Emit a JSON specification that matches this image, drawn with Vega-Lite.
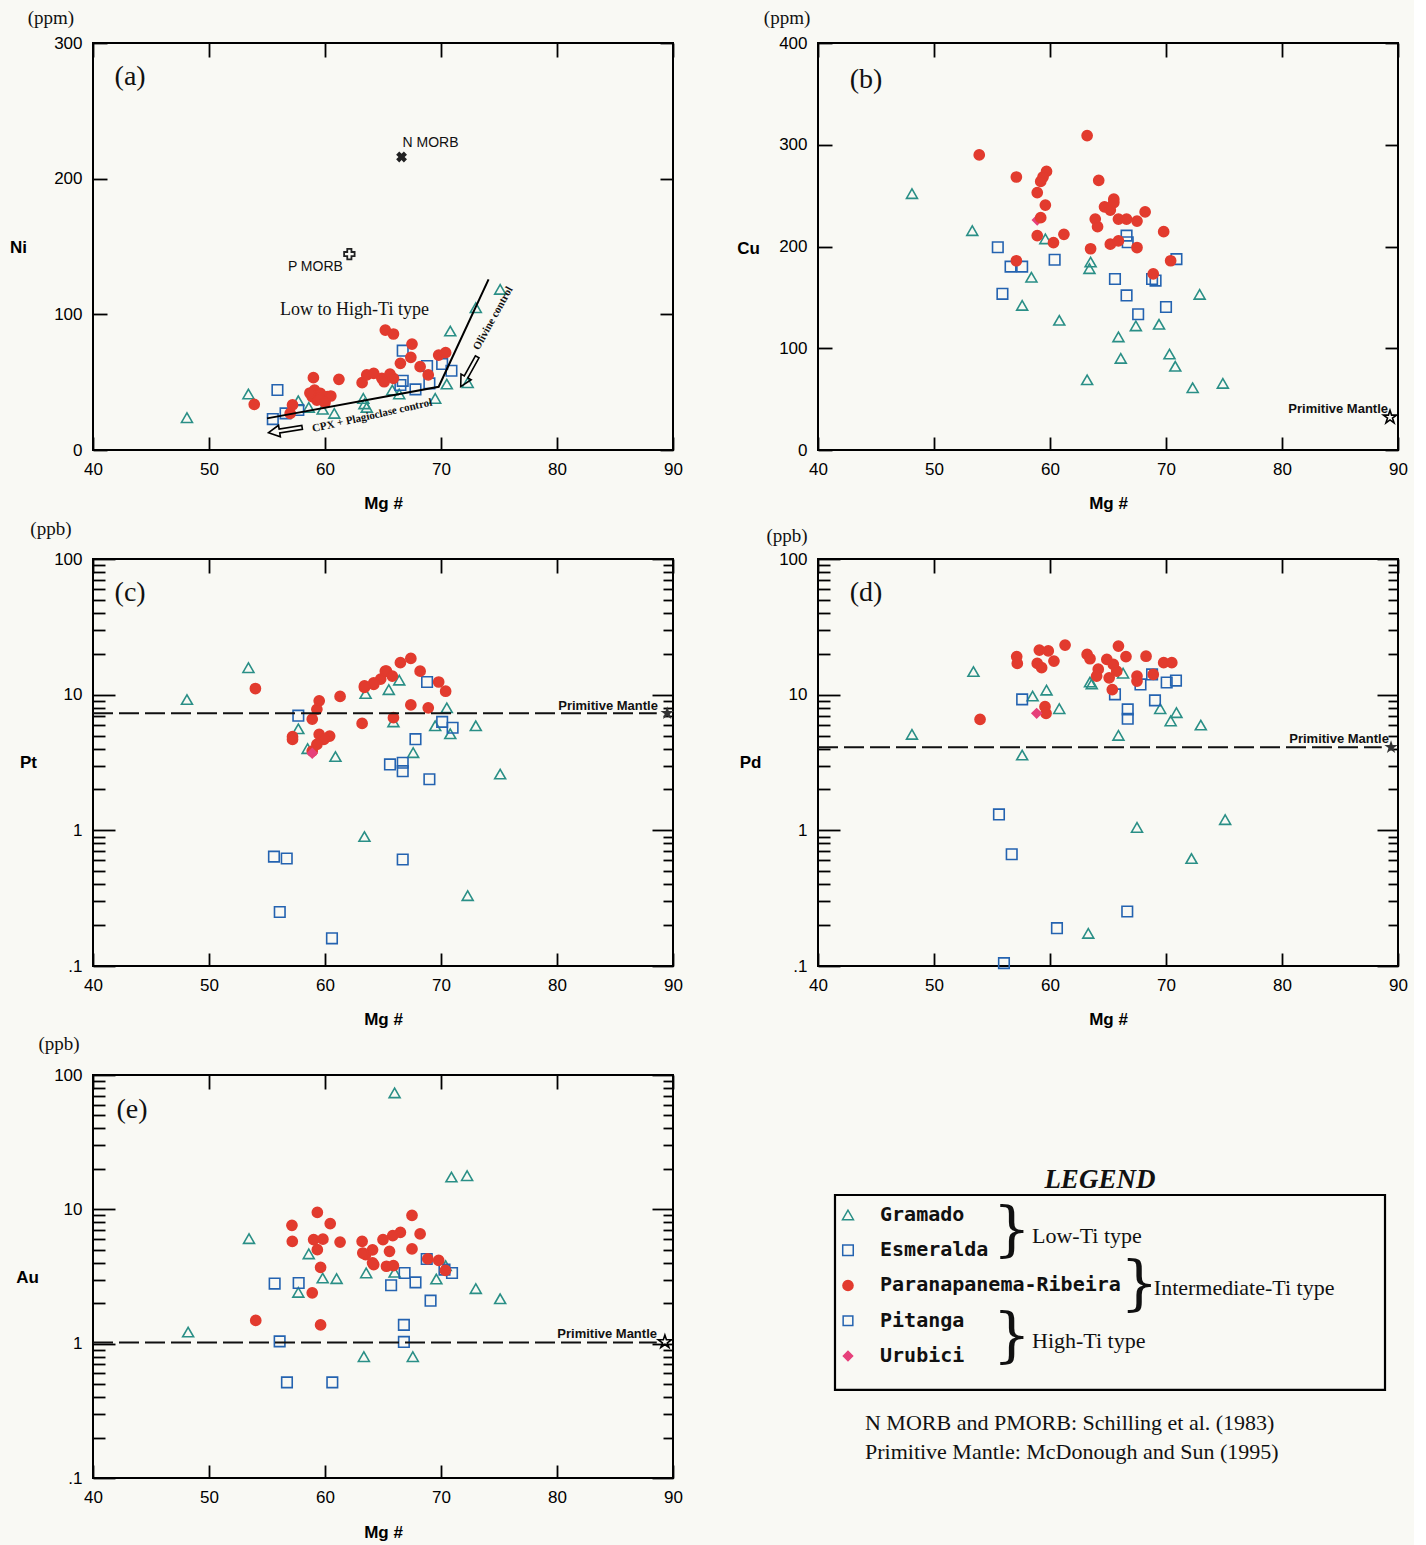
{
"$schema":"https://vega.github.io/schema/vega-lite/v6.json",
"background":"#f9f9f4",
"padding":{"left":8,"top":8,"right":5,"bottom":5},
"datasets":{
"pa":[
{"g":"G","mg":48.1,"v":23.8},{"g":"G","mg":53.4,"v":41.3},{"g":"G","mg":57.7,"v":36.3},{"g":"G","mg":58.6,"v":31.4},{"g":"G","mg":59.8,"v":30},{"g":"G","mg":60.8,"v":27},{"g":"G","mg":63.3,"v":38},{"g":"G","mg":63.4,"v":34},{"g":"G","mg":63.6,"v":31.4},{"g":"G","mg":65.8,"v":44.2},{"g":"G","mg":66.4,"v":41.3},{"g":"G","mg":69.5,"v":38},{"g":"G","mg":70.5,"v":48.6},{"g":"G","mg":70.8,"v":87.7},{"g":"G","mg":72.3,"v":49.6},{"g":"G","mg":73.0,"v":104.9},{"g":"G","mg":75.1,"v":118.4},
{"g":"E","mg":55.9,"v":44.2},{"g":"E","mg":55.5,"v":22.8},{"g":"E","mg":56.6,"v":27},{"g":"E","mg":57.7,"v":29.5},{"g":"E","mg":66.7,"v":73.2},{"g":"E","mg":66.7,"v":51},{"g":"E","mg":66.5,"v":47.9},{"g":"E","mg":67.8,"v":44.7},{"g":"E","mg":68.8,"v":61.9},{"g":"E","mg":69.0,"v":49.1},{"g":"E","mg":70.1,"v":63.4},{"g":"E","mg":70.9,"v":58.4},
{"g":"R","mg":53.9,"v":33.7},{"g":"R","mg":57.2,"v":33.2},{"g":"R","mg":57.0,"v":27},{"g":"R","mg":59.0,"v":53.3},{"g":"R","mg":59.1,"v":44.2},{"g":"R","mg":58.9,"v":39.3},{"g":"R","mg":59.6,"v":41.8},{"g":"R","mg":60.2,"v":39.3},{"g":"R","mg":59.3,"v":36.8},{"g":"R","mg":60.5,"v":39.8},{"g":"R","mg":59.5,"v":38},{"g":"R","mg":60.0,"v":35},{"g":"R","mg":58.7,"v":42},{"g":"R","mg":61.2,"v":52.1},{"g":"R","mg":63.2,"v":49.6},{"g":"R","mg":63.6,"v":55.3},{"g":"R","mg":64.2,"v":56.5},{"g":"R","mg":64.9,"v":52.8},{"g":"R","mg":65.1,"v":50.3},{"g":"R","mg":65.6,"v":56},{"g":"R","mg":65.9,"v":52.8},{"g":"R","mg":65.2,"v":88.4},{"g":"R","mg":65.9,"v":85.5},{"g":"R","mg":67.5,"v":78.1},{"g":"R","mg":67.4,"v":68.3},{"g":"R","mg":66.5,"v":63.9},{"g":"R","mg":68.2,"v":61.4},{"g":"R","mg":68.9,"v":55.3},{"g":"R","mg":69.8,"v":70},{"g":"R","mg":70.4,"v":71.7}
],
"la":[{"o":1,"mg":55.0,"v":23.3},{"o":2,"mg":69.8,"v":46.6},{"o":3,"mg":74.1,"v":125.8}],
"pb":[
{"g":"G","mg":48.1,"v":252},{"g":"G","mg":53.3,"v":215.6},{"g":"G","mg":59.6,"v":207.5},{"g":"G","mg":58.4,"v":169.8},{"g":"G","mg":57.6,"v":142.1},{"g":"G","mg":60.8,"v":127.5},{"g":"G","mg":63.5,"v":184.7},{"g":"G","mg":63.4,"v":178.2},{"g":"G","mg":63.2,"v":69},{"g":"G","mg":65.9,"v":111.2},{"g":"G","mg":66.1,"v":90},{"g":"G","mg":67.4,"v":122},{"g":"G","mg":69.4,"v":123.6},{"g":"G","mg":72.9,"v":152.9},{"g":"G","mg":70.3,"v":94.3},{"g":"G","mg":70.8,"v":82.3},{"g":"G","mg":72.3,"v":61.2},{"g":"G","mg":74.9,"v":65.5},
{"g":"E","mg":55.5,"v":199.3},{"g":"E","mg":56.6,"v":180.2},{"g":"E","mg":57.6,"v":180.2},{"g":"E","mg":55.9,"v":153.5},{"g":"E","mg":60.4,"v":187},{"g":"E","mg":65.6,"v":168.1},{"g":"E","mg":66.6,"v":210.7},{"g":"E","mg":66.7,"v":204.2},{"g":"E","mg":66.6,"v":151.9},{"g":"E","mg":67.6,"v":133.4},{"g":"E","mg":68.8,"v":168.1},{"g":"E","mg":69.1,"v":166.5},{"g":"E","mg":70.0,"v":140.5},{"g":"E","mg":70.9,"v":187.6},
{"g":"U","mg":58.9,"v":226},
{"g":"R","mg":53.9,"v":290},{"g":"R","mg":63.2,"v":309},{"g":"R","mg":57.1,"v":268.3},{"g":"R","mg":59.7,"v":273.9},{"g":"R","mg":59.4,"v":268.3},{"g":"R","mg":59.2,"v":264},{"g":"R","mg":58.9,"v":253},{"g":"R","mg":59.6,"v":240.7},{"g":"R","mg":59.2,"v":228.3},{"g":"R","mg":58.9,"v":210.7},{"g":"R","mg":60.3,"v":203.9},{"g":"R","mg":61.2,"v":212},{"g":"R","mg":57.1,"v":186},{"g":"R","mg":64.2,"v":265},{"g":"R","mg":63.9,"v":227},{"g":"R","mg":64.1,"v":219.5},{"g":"R","mg":63.5,"v":197.8},{"g":"R","mg":64.7,"v":239},{"g":"R","mg":65.5,"v":246.5},{"g":"R","mg":65.2,"v":235.8},{"g":"R","mg":65.9,"v":227},{"g":"R","mg":66.6,"v":227},{"g":"R","mg":67.5,"v":225},{"g":"R","mg":68.2,"v":234},{"g":"R","mg":65.2,"v":202.3},{"g":"R","mg":65.9,"v":205.5},{"g":"R","mg":67.5,"v":199},{"g":"R","mg":69.8,"v":214.6},{"g":"R","mg":70.4,"v":186},{"g":"R","mg":68.9,"v":173},{"g":"R","mg":65.5,"v":243.2}
],
"pc":[
{"g":"G","mg":53.4,"v":15.8},{"g":"G","mg":48.1,"v":9.2},{"g":"G","mg":57.7,"v":5.6},{"g":"G","mg":58.5,"v":4.0},{"g":"G","mg":60.9,"v":3.5},{"g":"G","mg":63.4,"v":0.9},{"g":"G","mg":63.5,"v":10.2},{"g":"G","mg":70.5,"v":8.0},{"g":"G","mg":66.4,"v":12.8},{"g":"G","mg":65.5,"v":10.9},{"g":"G","mg":65.9,"v":6.3},{"g":"G","mg":69.5,"v":5.9},{"g":"G","mg":70.8,"v":5.15},{"g":"G","mg":73.0,"v":5.9},{"g":"G","mg":67.6,"v":3.74},{"g":"G","mg":75.1,"v":2.6},{"g":"G","mg":72.3,"v":0.33},
{"g":"E","mg":57.7,"v":7.0},{"g":"E","mg":55.6,"v":0.64},{"g":"E","mg":56.7,"v":0.62},{"g":"E","mg":56.1,"v":0.25},{"g":"E","mg":60.6,"v":0.16},{"g":"E","mg":65.6,"v":3.06},{"g":"E","mg":68.8,"v":12.4},{"g":"E","mg":70.1,"v":6.3},{"g":"E","mg":71.0,"v":5.7},{"g":"E","mg":67.8,"v":4.7},{"g":"E","mg":66.7,"v":3.15},{"g":"E","mg":66.7,"v":2.73},{"g":"E","mg":69.0,"v":2.38},{"g":"E","mg":66.7,"v":0.61},
{"g":"R","mg":54.0,"v":11.1},{"g":"R","mg":59.5,"v":9.0},{"g":"R","mg":59.3,"v":7.8},{"g":"R","mg":58.9,"v":6.6},{"g":"R","mg":61.3,"v":9.7},{"g":"R","mg":57.2,"v":4.9},{"g":"R","mg":57.2,"v":4.68},{"g":"R","mg":59.5,"v":5.1},{"g":"R","mg":60.4,"v":4.95},{"g":"R","mg":59.9,"v":4.68},{"g":"R","mg":59.3,"v":4.3},{"g":"R","mg":58.9,"v":3.84},{"g":"R","mg":63.2,"v":6.14},{"g":"R","mg":63.4,"v":11.3},{"g":"R","mg":64.2,"v":11.9},{"g":"R","mg":65.2,"v":14.9},{"g":"R","mg":64.8,"v":13.0},{"g":"R","mg":66.5,"v":17.2},{"g":"R","mg":67.4,"v":18.5},{"g":"R","mg":68.2,"v":14.9},{"g":"R","mg":69.8,"v":12.4},{"g":"R","mg":70.4,"v":10.6},{"g":"R","mg":65.3,"v":14.9},{"g":"R","mg":65.8,"v":13.7},{"g":"R","mg":64.2,"v":12.2},{"g":"R","mg":63.4,"v":11.6},{"g":"R","mg":67.4,"v":8.4},{"g":"R","mg":68.9,"v":8.0},{"g":"R","mg":65.9,"v":6.77},
{"g":"U","mg":58.9,"v":3.7}
],
"pd":[
{"g":"G","mg":48.1,"v":5.1},{"g":"G","mg":53.4,"v":14.8},{"g":"G","mg":57.6,"v":3.59},{"g":"G","mg":58.5,"v":9.77},{"g":"G","mg":59.7,"v":10.8},{"g":"G","mg":60.8,"v":7.88},{"g":"G","mg":63.45,"v":12.4},{"g":"G","mg":63.6,"v":12.0},{"g":"G","mg":65.9,"v":5.01},{"g":"G","mg":66.3,"v":14.4},{"g":"G","mg":69.5,"v":7.88},{"g":"G","mg":70.9,"v":7.37},{"g":"G","mg":70.4,"v":6.4},{"g":"G","mg":73.0,"v":5.97},{"g":"G","mg":67.5,"v":1.05},{"g":"G","mg":75.1,"v":1.2},{"g":"G","mg":72.2,"v":0.62},{"g":"G","mg":63.3,"v":0.174},
{"g":"E","mg":57.6,"v":9.23},{"g":"E","mg":65.6,"v":10.05},{"g":"E","mg":66.7,"v":7.79},{"g":"E","mg":66.7,"v":6.65},{"g":"E","mg":67.8,"v":11.9},{"g":"E","mg":68.8,"v":14.1},{"g":"E","mg":69.05,"v":9.08},{"g":"E","mg":70.06,"v":12.3},{"g":"E","mg":70.86,"v":12.7},{"g":"E","mg":55.6,"v":1.31},{"g":"E","mg":56.7,"v":0.666},{"g":"E","mg":66.66,"v":0.252},{"g":"E","mg":60.6,"v":0.19},{"g":"E","mg":56.03,"v":0.105},
{"g":"R","mg":53.97,"v":6.58},{"g":"R","mg":57.13,"v":19.1},{"g":"R","mg":57.18,"v":17.0},{"g":"R","mg":59.08,"v":21.3},{"g":"R","mg":59.85,"v":21.0},{"g":"R","mg":58.9,"v":17.0},{"g":"R","mg":59.28,"v":15.8},{"g":"R","mg":60.34,"v":17.7},{"g":"R","mg":61.3,"v":23.2},{"g":"R","mg":59.57,"v":8.16},{"g":"R","mg":59.66,"v":7.28},{"g":"R","mg":63.2,"v":19.8},{"g":"R","mg":63.45,"v":18.4},{"g":"R","mg":64.16,"v":15.4},{"g":"R","mg":64.02,"v":13.7},{"g":"R","mg":64.9,"v":18.2},{"g":"R","mg":65.46,"v":16.7},{"g":"R","mg":65.9,"v":22.8},{"g":"R","mg":66.55,"v":19.1},{"g":"R","mg":65.1,"v":13.3},{"g":"R","mg":65.75,"v":14.9},{"g":"R","mg":65.37,"v":10.9},{"g":"R","mg":67.5,"v":13.7},{"g":"R","mg":67.5,"v":12.6},{"g":"R","mg":68.28,"v":19.2},{"g":"R","mg":68.9,"v":14.1},{"g":"R","mg":69.8,"v":17.2},{"g":"R","mg":70.5,"v":17.2},
{"g":"U","mg":58.85,"v":7.28}
],
"pe":[
{"g":"G","mg":48.2,"v":1.22},{"g":"G","mg":53.45,"v":6.05},{"g":"G","mg":58.6,"v":4.66},{"g":"G","mg":57.7,"v":2.41},{"g":"G","mg":59.8,"v":3.08},{"g":"G","mg":61.0,"v":3.05},{"g":"G","mg":63.55,"v":3.36},{"g":"G","mg":63.35,"v":0.8},{"g":"G","mg":66.0,"v":73.6},{"g":"G","mg":70.9,"v":17.4},{"g":"G","mg":72.25,"v":17.8},{"g":"G","mg":69.6,"v":3.03},{"g":"G","mg":73.0,"v":2.57},{"g":"G","mg":75.1,"v":2.16},{"g":"G","mg":70.4,"v":3.81},{"g":"G","mg":67.57,"v":0.8},{"g":"G","mg":66.0,"v":3.4},
{"g":"E","mg":55.66,"v":2.8},{"g":"E","mg":57.73,"v":2.83},{"g":"E","mg":56.09,"v":1.04},{"g":"E","mg":56.72,"v":0.515},{"g":"E","mg":60.63,"v":0.515},{"g":"E","mg":66.86,"v":3.36},{"g":"E","mg":65.7,"v":2.72},{"g":"E","mg":67.8,"v":2.86},{"g":"E","mg":69.1,"v":2.09},{"g":"E","mg":66.8,"v":1.38},{"g":"E","mg":66.8,"v":1.03},{"g":"E","mg":70.95,"v":3.36},{"g":"E","mg":70.3,"v":3.56},{"g":"E","mg":68.77,"v":4.27},
{"g":"R","mg":59.34,"v":9.5},{"g":"R","mg":57.15,"v":7.6},{"g":"R","mg":60.45,"v":7.83},{"g":"R","mg":57.18,"v":5.78},{"g":"R","mg":59.02,"v":5.95},{"g":"R","mg":59.82,"v":6.0},{"g":"R","mg":59.34,"v":5.01},{"g":"R","mg":61.3,"v":5.71},{"g":"R","mg":59.62,"v":3.7},{"g":"R","mg":58.9,"v":2.39},{"g":"R","mg":54.03,"v":1.49},{"g":"R","mg":59.62,"v":1.38},{"g":"R","mg":63.2,"v":5.78},{"g":"R","mg":63.5,"v":4.6},{"g":"R","mg":64.1,"v":5.0},{"g":"R","mg":64.2,"v":3.88},{"g":"R","mg":65.0,"v":5.95},{"g":"R","mg":65.3,"v":3.77},{"g":"R","mg":67.5,"v":9.02},{"g":"R","mg":68.2,"v":6.56},{"g":"R","mg":67.5,"v":5.07},{"g":"R","mg":66.5,"v":6.74},{"g":"R","mg":65.84,"v":6.37},{"g":"R","mg":65.56,"v":4.87},{"g":"R","mg":63.26,"v":4.73},{"g":"R","mg":64.1,"v":4.0},{"g":"R","mg":65.9,"v":3.81},{"g":"R","mg":68.86,"v":4.27},{"g":"R","mg":69.8,"v":4.17},{"g":"R","mg":70.38,"v":3.51}
],
"leg":[{"i":1,"g":"G","name":"Gramado"},{"i":2,"g":"E","name":"Esmeralda"},{"i":3,"g":"R","name":"Paranapanema-Ribeira"},{"i":4,"g":"P","name":"Pitanga"},{"i":5,"g":"U","name":"Urubici"}]
},
"columns":2,
"spacing":{"row":109,"column":145},
"bounds":"flush",
"concat":[
{
"width":580,"height":407,
"resolve":{"axis":{"x":"independent","y":"independent"}},
"layer":[
{"data":{"name":"pa"},"mark":{"type":"point","opacity":1,"strokeWidth":1.6},
"encoding":{
"x":{"field":"mg","type":"quantitative","scale":{"domain":[40,90],"nice":false},"axis":{"orient":"bottom","values":[40,50,60,70,80,90],"tickSize":-13,"labelPadding":24,"title":"Mg #","titleX":290,"titleY":53,"titleAlign":"center","titleBaseline":"middle","titleAngle":0}},
"y":{"field":"v","type":"quantitative","scale":{"domain":[0,300],"nice":false},"axis":{"orient":"left","values":[0,100,200,300],"tickSize":-14,"labelPadding":25,"title":"Ni","titleAngle":0,"titleX":-75,"titleY":204,"titleAlign":"center","titleBaseline":"middle"}},
"shape":{"field":"g","type":"nominal","scale":{"domain":["G","E","R","P","U"],"range":["triangle-up","square","circle","square","diamond"]},"legend":null},
"fill":{"field":"g","type":"nominal","scale":{"domain":["G","E","R","P","U"],"range":["transparent","transparent","#e23b2e","transparent","#e6407a"]},"legend":null},
"stroke":{"field":"g","type":"nominal","scale":{"domain":["G","E","R","P","U"],"range":["#2a8f86","#2463b0","#e23b2e","#2463b0","#e6407a"]},"legend":null},
"size":{"field":"g","type":"nominal","scale":{"domain":["G","E","R","P","U"],"range":[120,85,110,85,70]},"legend":null}
}},
{"data":{"name":"la"},"mark":{"type":"line","color":"black","strokeWidth":2},
"encoding":{
"x":{"field":"mg","type":"quantitative","axis":{"orient":"top","values":[40,50,60,70,80,90],"tickSize":-14,"labels":false,"title":null}},
"y":{"field":"v","type":"quantitative","axis":{"orient":"right","values":[0,100,200,300],"tickSize":-13,"labels":false,"title":null}},
"order":{"field":"o","type":"quantitative"}
}},
{"data":{"values":[{}]},"mark":{"type":"point","shape":"M-1,0L-0.35,-0.34L-0.35,-0.12L1,-0.12L1,0.12L-0.35,0.12L-0.35,0.34Z","size":1156,"angle":-9,"filled":false,"stroke":"black","strokeWidth":1.6,"opacity":1},
"encoding":{"x":{"datum":56.58,"type":"quantitative","axis":null},"y":{"datum":14.7,"type":"quantitative","axis":null}}},
{"data":{"values":[{}]},"mark":{"type":"point","shape":"M-1,0L-0.35,-0.34L-0.35,-0.12L1,-0.12L1,0.12L-0.35,0.12L-0.35,0.34Z","size":1156,"angle":-61,"filled":false,"stroke":"black","strokeWidth":1.6,"opacity":1},
"encoding":{"x":{"datum":72.41,"type":"quantitative","axis":null},"y":{"datum":57.7,"type":"quantitative","axis":null}}},
{"data":{"values":[{}]},"mark":{"type":"point","shape":"cross","angle":45,"filled":true,"color":"#222","size":120,"opacity":1},
"encoding":{"x":{"datum":66.6,"type":"quantitative","axis":null},"y":{"datum":216,"type":"quantitative","axis":null}}},
{"data":{"values":[{}]},"mark":{"type":"point","shape":"cross","filled":false,"stroke":"#222","strokeWidth":1.8,"size":110,"opacity":1},
"encoding":{"x":{"datum":62.1,"type":"quantitative","axis":null},"y":{"datum":144.4,"type":"quantitative","axis":null}}},
{"data":{"values":[{}]},"mark":{"type":"text","text":"N MORB","font":"Liberation Sans","fontSize":14,"align":"center","baseline":"middle","color":"#111"},
"encoding":{"x":{"datum":69.1,"type":"quantitative","axis":null},"y":{"datum":226.2,"type":"quantitative","axis":null}}},
{"data":{"values":[{}]},"mark":{"type":"text","text":"P MORB","font":"Liberation Sans","fontSize":14,"align":"center","baseline":"middle","color":"#111"},
"encoding":{"x":{"datum":59.17,"type":"quantitative","axis":null},"y":{"datum":134.9,"type":"quantitative","axis":null}}},
{"data":{"values":[{}]},"mark":{"type":"text","text":"Low to High-Ti type","font":"Liberation Serif","fontSize":18,"align":"center","baseline":"middle","color":"#111"},
"encoding":{"x":{"datum":62.54,"type":"quantitative","axis":null},"y":{"datum":103.2,"type":"quantitative","axis":null}}},
{"data":{"values":[{}]},"mark":{"type":"text","text":"CPX + Plagioclase control","font":"Liberation Serif","fontSize":11,"fontWeight":"bold","angle":-12.6,"align":"center","baseline":"middle","color":"#111"},
"encoding":{"x":{"datum":64.07,"type":"quantitative","axis":null},"y":{"datum":25.2,"type":"quantitative","axis":null}}},
{"data":{"values":[{}]},"mark":{"type":"text","text":"Olivine control","font":"Liberation Serif","fontSize":11,"fontWeight":"bold","angle":-61,"align":"center","baseline":"middle","color":"#111"},
"encoding":{"x":{"datum":74.5,"type":"quantitative","axis":null},"y":{"datum":97,"type":"quantitative","axis":null}}},
{"data":{"values":[{}]},"mark":{"type":"text","text":"(a)","font":"Liberation Serif","fontSize":28,"align":"center","baseline":"middle","color":"#111"},
"encoding":{"x":{"datum":43.2,"type":"quantitative","axis":null},"y":{"datum":274.9,"type":"quantitative","axis":null}}},
{"data":{"values":[{}]},"mark":{"type":"text","text":"(ppm)","font":"Liberation Serif","fontSize":19,"align":"center","baseline":"middle","color":"#111"},
"encoding":{"x":{"datum":36.37,"type":"quantitative","axis":null},"y":{"datum":318.3,"type":"quantitative","axis":null}}}
]
},
{
"width":580,"height":407,
"resolve":{"axis":{"x":"independent","y":"independent"}},
"layer":[
{"data":{"name":"pb"},"mark":{"type":"point","opacity":1,"strokeWidth":1.6},
"encoding":{
"x":{"field":"mg","type":"quantitative","scale":{"domain":[40,90],"nice":false},"axis":{"orient":"bottom","values":[40,50,60,70,80,90],"tickSize":-13,"labelPadding":24,"title":"Mg #","titleX":290,"titleY":53,"titleAlign":"center","titleBaseline":"middle","titleAngle":0}},
"y":{"field":"v","type":"quantitative","scale":{"domain":[0,400],"nice":false},"axis":{"orient":"left","values":[0,100,200,300,400],"tickSize":-14,"labelPadding":25,"title":"Cu","titleAngle":0,"titleX":-70,"titleY":205,"titleAlign":"center","titleBaseline":"middle"}},
"shape":{"field":"g","type":"nominal","scale":{"domain":["G","E","R","P","U"],"range":["triangle-up","square","circle","square","diamond"]},"legend":null},
"fill":{"field":"g","type":"nominal","scale":{"domain":["G","E","R","P","U"],"range":["transparent","transparent","#e23b2e","transparent","#e6407a"]},"legend":null},
"stroke":{"field":"g","type":"nominal","scale":{"domain":["G","E","R","P","U"],"range":["#2a8f86","#2463b0","#e23b2e","#2463b0","#e6407a"]},"legend":null},
"size":{"field":"g","type":"nominal","scale":{"domain":["G","E","R","P","U"],"range":[120,85,110,85,70]},"legend":null}
}},
{"data":{"values":[{}]},"mark":{"type":"point","shape":"M0,-1L0.2245,-0.309L0.951,-0.309L0.363,0.118L0.588,0.809L0,0.382L-0.588,0.809L-0.363,0.118L-0.951,-0.309L-0.2245,-0.309Z","size":190,"filled":false,"stroke":"black","strokeWidth":1.6,"opacity":1},
"encoding":{
"x":{"datum":89.31,"type":"quantitative","axis":{"orient":"top","values":[40,50,60,70,80,90],"tickSize":-14,"labels":false,"title":null}},
"y":{"datum":32.2,"type":"quantitative","axis":{"orient":"right","values":[0,100,200,300,400],"tickSize":-13,"labels":false,"title":null}}
}},
{"data":{"values":[{}]},"mark":{"type":"text","text":"Primitive Mantle","font":"Liberation Sans","fontSize":13,"fontWeight":"bold","align":"right","baseline":"middle","color":"#111"},
"encoding":{"x":{"datum":89.14,"type":"quantitative","axis":null},"y":{"datum":40,"type":"quantitative","axis":null}}},
{"data":{"values":[{}]},"mark":{"type":"text","text":"(b)","font":"Liberation Serif","fontSize":28,"align":"center","baseline":"middle","color":"#111"},
"encoding":{"x":{"datum":44.14,"type":"quantitative","axis":null},"y":{"datum":363.9,"type":"quantitative","axis":null}}},
{"data":{"values":[{}]},"mark":{"type":"text","text":"(ppm)","font":"Liberation Serif","fontSize":19,"align":"center","baseline":"middle","color":"#111"},
"encoding":{"x":{"datum":37.33,"type":"quantitative","axis":null},"y":{"datum":424.5,"type":"quantitative","axis":null}}}
]
},
{
"width":580,"height":407,
"resolve":{"axis":{"x":"independent","y":"independent"}},
"layer":[
{"data":{"name":"pc"},"mark":{"type":"point","opacity":1,"strokeWidth":1.6},
"encoding":{
"x":{"field":"mg","type":"quantitative","scale":{"domain":[40,90],"nice":false},"axis":{"orient":"bottom","values":[40,50,60,70,80,90],"tickSize":-13,"labelPadding":24,"title":"Mg #","titleX":290,"titleY":53,"titleAlign":"center","titleBaseline":"middle","titleAngle":0}},
"y":{"field":"v","type":"quantitative","scale":{"type":"log","domain":[0.1,100],"nice":false},"axis":{"orient":"left","values":[0.1,0.2,0.3,0.4,0.5,0.6,0.7,0.8,0.9,1,2,3,4,5,6,7,8,9,10,20,30,40,50,60,70,80,90,100],"tickSize":{"condition":{"test":"datum.value==0.1||datum.value==1||datum.value==10||datum.value==100","value":-22},"value":-12},"labelPadding":33,"labelExpr":"datum.value==0.1?'.1':datum.value==1?'1':datum.value==10?'10':datum.value==100?'100':''","title":"Pt","titleAngle":0,"titleX":-65,"titleY":203,"titleAlign":"center","titleBaseline":"middle"}},
"shape":{"field":"g","type":"nominal","scale":{"domain":["G","E","R","P","U"],"range":["triangle-up","square","circle","square","diamond"]},"legend":null},
"fill":{"field":"g","type":"nominal","scale":{"domain":["G","E","R","P","U"],"range":["transparent","transparent","#e23b2e","transparent","#e6407a"]},"legend":null},
"stroke":{"field":"g","type":"nominal","scale":{"domain":["G","E","R","P","U"],"range":["#2a8f86","#2463b0","#e23b2e","#2463b0","#e6407a"]},"legend":null},
"size":{"field":"g","type":"nominal","scale":{"domain":["G","E","R","P","U"],"range":[120,85,110,85,70]},"legend":null}
}},
{"data":{"values":[{}]},"mark":{"type":"rule","color":"#111","strokeWidth":2,"strokeDash":[20,6]},
"encoding":{
"x":{"datum":40,"type":"quantitative","axis":{"orient":"top","values":[40,50,60,70,80,90],"tickSize":-14,"labels":false,"title":null}},
"x2":{"datum":88.6},
"y":{"datum":7.3,"type":"quantitative","axis":{"orient":"right","values":[0.1,0.2,0.3,0.4,0.5,0.6,0.7,0.8,0.9,1,2,3,4,5,6,7,8,9,10,20,30,40,50,60,70,80,90,100],"tickSize":{"condition":{"test":"datum.value==0.1||datum.value==1||datum.value==10||datum.value==100","value":-21},"value":-10},"labels":false,"title":null}}
}},
{"data":{"values":[{}]},"mark":{"type":"point","shape":"M0,-1L0.2245,-0.309L0.951,-0.309L0.363,0.118L0.588,0.809L0,0.382L-0.588,0.809L-0.363,0.118L-0.951,-0.309L-0.2245,-0.309Z","size":200,"filled":true,"color":"#333","strokeWidth":1.2,"opacity":1},
"encoding":{"x":{"datum":89.5,"type":"quantitative","axis":null},"y":{"datum":7.3,"type":"quantitative","axis":null}}},
{"data":{"values":[{}]},"mark":{"type":"text","text":"Primitive Mantle","font":"Liberation Sans","fontSize":13,"fontWeight":"bold","align":"right","baseline":"middle","color":"#111"},
"encoding":{"x":{"datum":88.7,"type":"quantitative","axis":null},"y":{"datum":8.2,"type":"quantitative","axis":null}}},
{"data":{"values":[{}]},"mark":{"type":"text","text":"(c)","font":"Liberation Serif","fontSize":28,"align":"center","baseline":"middle","color":"#111"},
"encoding":{"x":{"datum":43.2,"type":"quantitative","axis":null},"y":{"datum":55.8,"type":"quantitative","axis":null}}},
{"data":{"values":[{}]},"mark":{"type":"text","text":"(ppb)","font":"Liberation Serif","fontSize":19,"align":"center","baseline":"middle","color":"#111"},
"encoding":{"x":{"datum":36.37,"type":"quantitative","axis":null},"y":{"datum":165,"type":"quantitative","axis":null}}}
]
},
{
"width":580,"height":407,
"resolve":{"axis":{"x":"independent","y":"independent"}},
"layer":[
{"data":{"name":"pd"},"mark":{"type":"point","opacity":1,"strokeWidth":1.6},
"encoding":{
"x":{"field":"mg","type":"quantitative","scale":{"domain":[40,90],"nice":false},"axis":{"orient":"bottom","values":[40,50,60,70,80,90],"tickSize":-13,"labelPadding":24,"title":"Mg #","titleX":290,"titleY":53,"titleAlign":"center","titleBaseline":"middle","titleAngle":0}},
"y":{"field":"v","type":"quantitative","scale":{"type":"log","domain":[0.1,100],"nice":false},"axis":{"orient":"left","values":[0.1,0.2,0.3,0.4,0.5,0.6,0.7,0.8,0.9,1,2,3,4,5,6,7,8,9,10,20,30,40,50,60,70,80,90,100],"tickSize":{"condition":{"test":"datum.value==0.1||datum.value==1||datum.value==10||datum.value==100","value":-22},"value":-12},"labelPadding":33,"labelExpr":"datum.value==0.1?'.1':datum.value==1?'1':datum.value==10?'10':datum.value==100?'100':''","title":"Pd","titleAngle":0,"titleX":-68,"titleY":203,"titleAlign":"center","titleBaseline":"middle"}},
"shape":{"field":"g","type":"nominal","scale":{"domain":["G","E","R","P","U"],"range":["triangle-up","square","circle","square","diamond"]},"legend":null},
"fill":{"field":"g","type":"nominal","scale":{"domain":["G","E","R","P","U"],"range":["transparent","transparent","#e23b2e","transparent","#e6407a"]},"legend":null},
"stroke":{"field":"g","type":"nominal","scale":{"domain":["G","E","R","P","U"],"range":["#2a8f86","#2463b0","#e23b2e","#2463b0","#e6407a"]},"legend":null},
"size":{"field":"g","type":"nominal","scale":{"domain":["G","E","R","P","U"],"range":[120,85,110,85,70]},"legend":null}
}},
{"data":{"values":[{}]},"mark":{"type":"rule","color":"#111","strokeWidth":2,"strokeDash":[20,6]},
"encoding":{
"x":{"datum":40,"type":"quantitative","axis":{"orient":"top","values":[40,50,60,70,80,90],"tickSize":-14,"labels":false,"title":null}},
"x2":{"datum":88.6},
"y":{"datum":4.1,"type":"quantitative","axis":{"orient":"right","values":[0.1,0.2,0.3,0.4,0.5,0.6,0.7,0.8,0.9,1,2,3,4,5,6,7,8,9,10,20,30,40,50,60,70,80,90,100],"tickSize":{"condition":{"test":"datum.value==0.1||datum.value==1||datum.value==10||datum.value==100","value":-21},"value":-10},"labels":false,"title":null}}
}},
{"data":{"values":[{}]},"mark":{"type":"point","shape":"M0,-1L0.2245,-0.309L0.951,-0.309L0.363,0.118L0.588,0.809L0,0.382L-0.588,0.809L-0.363,0.118L-0.951,-0.309L-0.2245,-0.309Z","size":200,"filled":true,"color":"#333","strokeWidth":1.2,"opacity":1},
"encoding":{"x":{"datum":89.4,"type":"quantitative","axis":null},"y":{"datum":4.1,"type":"quantitative","axis":null}}},
{"data":{"values":[{}]},"mark":{"type":"text","text":"Primitive Mantle","font":"Liberation Sans","fontSize":13,"fontWeight":"bold","align":"right","baseline":"middle","color":"#111"},
"encoding":{"x":{"datum":89.22,"type":"quantitative","axis":null},"y":{"datum":4.69,"type":"quantitative","axis":null}}},
{"data":{"values":[{}]},"mark":{"type":"text","text":"(d)","font":"Liberation Serif","fontSize":28,"align":"center","baseline":"middle","color":"#111"},
"encoding":{"x":{"datum":44.14,"type":"quantitative","axis":null},"y":{"datum":55.8,"type":"quantitative","axis":null}}},
{"data":{"values":[{}]},"mark":{"type":"text","text":"(ppb)","font":"Liberation Serif","fontSize":19,"align":"center","baseline":"middle","color":"#111"},
"encoding":{"x":{"datum":37.33,"type":"quantitative","axis":null},"y":{"datum":149,"type":"quantitative","axis":null}}}
]
},
{
"width":580,"height":403,
"resolve":{"axis":{"x":"independent","y":"independent"}},
"layer":[
{"data":{"name":"pe"},"mark":{"type":"point","opacity":1,"strokeWidth":1.6},
"encoding":{
"x":{"field":"mg","type":"quantitative","scale":{"domain":[40,90],"nice":false},"axis":{"orient":"bottom","values":[40,50,60,70,80,90],"tickSize":-13,"labelPadding":24,"title":"Mg #","titleX":290,"titleY":54,"titleAlign":"center","titleBaseline":"middle","titleAngle":0}},
"y":{"field":"v","type":"quantitative","scale":{"type":"log","domain":[0.1,100],"nice":false},"axis":{"orient":"left","values":[0.1,0.2,0.3,0.4,0.5,0.6,0.7,0.8,0.9,1,2,3,4,5,6,7,8,9,10,20,30,40,50,60,70,80,90,100],"tickSize":{"condition":{"test":"datum.value==0.1||datum.value==1||datum.value==10||datum.value==100","value":-22},"value":-12},"labelPadding":33,"labelExpr":"datum.value==0.1?'.1':datum.value==1?'1':datum.value==10?'10':datum.value==100?'100':''","title":"Au","titleAngle":0,"titleX":-66,"titleY":202,"titleAlign":"center","titleBaseline":"middle"}},
"shape":{"field":"g","type":"nominal","scale":{"domain":["G","E","R","P","U"],"range":["triangle-up","square","circle","square","diamond"]},"legend":null},
"fill":{"field":"g","type":"nominal","scale":{"domain":["G","E","R","P","U"],"range":["transparent","transparent","#e23b2e","transparent","#e6407a"]},"legend":null},
"stroke":{"field":"g","type":"nominal","scale":{"domain":["G","E","R","P","U"],"range":["#2a8f86","#2463b0","#e23b2e","#2463b0","#e6407a"]},"legend":null},
"size":{"field":"g","type":"nominal","scale":{"domain":["G","E","R","P","U"],"range":[120,85,110,85,70]},"legend":null}
}},
{"data":{"values":[{}]},"mark":{"type":"rule","color":"#111","strokeWidth":2,"strokeDash":[20,6]},
"encoding":{
"x":{"datum":40,"type":"quantitative","axis":{"orient":"top","values":[40,50,60,70,80,90],"tickSize":-14,"labels":false,"title":null}},
"x2":{"datum":88.6},
"y":{"datum":1.02,"type":"quantitative","axis":{"orient":"right","values":[0.1,0.2,0.3,0.4,0.5,0.6,0.7,0.8,0.9,1,2,3,4,5,6,7,8,9,10,20,30,40,50,60,70,80,90,100],"tickSize":{"condition":{"test":"datum.value==0.1||datum.value==1||datum.value==10||datum.value==100","value":-21},"value":-10},"labels":false,"title":null}}
}},
{"data":{"values":[{}]},"mark":{"type":"point","shape":"M0,-1L0.2245,-0.309L0.951,-0.309L0.363,0.118L0.588,0.809L0,0.382L-0.588,0.809L-0.363,0.118L-0.951,-0.309L-0.2245,-0.309Z","size":190,"filled":false,"stroke":"black","strokeWidth":1.6,"opacity":1},
"encoding":{"x":{"datum":89.3,"type":"quantitative","axis":null},"y":{"datum":1.03,"type":"quantitative","axis":null}}},
{"data":{"values":[{}]},"mark":{"type":"text","text":"Primitive Mantle","font":"Liberation Sans","fontSize":13,"fontWeight":"bold","align":"right","baseline":"middle","color":"#111"},
"encoding":{"x":{"datum":88.62,"type":"quantitative","axis":null},"y":{"datum":1.19,"type":"quantitative","axis":null}}},
{"data":{"values":[{}]},"mark":{"type":"text","text":"(e)","font":"Liberation Serif","fontSize":28,"align":"center","baseline":"middle","color":"#111"},
"encoding":{"x":{"datum":43.36,"type":"quantitative","axis":null},"y":{"datum":55.2,"type":"quantitative","axis":null}}},
{"data":{"values":[{}]},"mark":{"type":"text","text":"(ppb)","font":"Liberation Serif","fontSize":19,"align":"center","baseline":"middle","color":"#111"},
"encoding":{"x":{"datum":37.07,"type":"quantitative","axis":null},"y":{"datum":171,"type":"quantitative","axis":null}}}
]
},
{
"width":580,"height":403,
"view":{"stroke":null},
"layer":[
{"data":{"values":[{}]},"mark":{"type":"rect","filled":false,"stroke":"black","strokeWidth":2.2},
"encoding":{"x":{"datum":2.93,"type":"quantitative","scale":{"domain":[0,100],"nice":false,"zero":false},"axis":null},"x2":{"datum":97.76},"y":{"datum":0.433,"type":"quantitative","scale":{"domain":[-2.97,8.46],"reverse":true,"nice":false,"zero":false},"axis":null},"y2":{"datum":5.96}}},
{"data":{"values":[{}]},"mark":{"type":"text","text":"LEGEND","font":"Liberation Serif","fontSize":27,"fontWeight":"bold","fontStyle":"italic","align":"center","baseline":"middle","color":"#111"},
"encoding":{"x":{"datum":48.6,"type":"quantitative","axis":null},"y":{"datum":0.0,"type":"quantitative","axis":null}}},
{"data":{"name":"leg"},"mark":{"type":"point","opacity":1,"strokeWidth":1.5},
"encoding":{
"x":{"datum":5.17,"type":"quantitative","axis":null},
"y":{"field":"i","type":"quantitative","axis":null},
"shape":{"field":"g","type":"nominal","scale":{"domain":["G","E","R","P","U"],"range":["triangle-up","square","circle","square","diamond"]},"legend":null},
"fill":{"field":"g","type":"nominal","scale":{"domain":["G","E","R","P","U"],"range":["transparent","transparent","#e23b2e","transparent","#e6407a"]},"legend":null},
"stroke":{"field":"g","type":"nominal","scale":{"domain":["G","E","R","P","U"],"range":["#2a8f86","#2463b0","#e23b2e","#2463b0","#e6407a"]},"legend":null},
"size":{"field":"g","type":"nominal","scale":{"domain":["G","E","R","P","U"],"range":[120,85,110,85,70]},"legend":null}
}},
{"data":{"name":"leg"},"mark":{"type":"text","font":"DejaVu Sans Mono","fontSize":20,"fontWeight":"bold","align":"left","baseline":"middle","color":"#111"},
"encoding":{"x":{"datum":10.69,"type":"quantitative","axis":null},"y":{"field":"i","type":"quantitative","axis":null},"text":{"field":"name"}}},
{"data":{"values":[{}]},"mark":{"type":"text","text":"}","font":"DejaVu Serif","fontSize":60,"fontWeight":"normal","align":"center","baseline":"middle","color":"#111","dy":-3},
"encoding":{"x":{"datum":33.4,"type":"quantitative","axis":null},"y":{"datum":1.54,"type":"quantitative","axis":null}}},
{"data":{"values":[{}]},"mark":{"type":"text","text":"}","font":"DejaVu Serif","fontSize":60,"fontWeight":"normal","align":"center","baseline":"middle","color":"#111","dy":-3},
"encoding":{"x":{"datum":55.4,"type":"quantitative","axis":null},"y":{"datum":3.07,"type":"quantitative","axis":null}}},
{"data":{"values":[{}]},"mark":{"type":"text","text":"}","font":"DejaVu Serif","fontSize":60,"fontWeight":"normal","align":"center","baseline":"middle","color":"#111","dy":-3},
"encoding":{"x":{"datum":33.4,"type":"quantitative","axis":null},"y":{"datum":4.55,"type":"quantitative","axis":null}}},
{"data":{"values":[{}]},"mark":{"type":"text","text":"Low-Ti type","font":"Liberation Serif","fontSize":22,"align":"left","baseline":"middle","color":"#111"},
"encoding":{"x":{"datum":36.9,"type":"quantitative","axis":null},"y":{"datum":1.6,"type":"quantitative","axis":null}}},
{"data":{"values":[{}]},"mark":{"type":"text","text":"Intermediate-Ti type","font":"Liberation Serif","fontSize":22,"align":"left","baseline":"middle","color":"#111"},
"encoding":{"x":{"datum":57.9,"type":"quantitative","axis":null},"y":{"datum":3.07,"type":"quantitative","axis":null}}},
{"data":{"values":[{}]},"mark":{"type":"text","text":"High-Ti type","font":"Liberation Serif","fontSize":22,"align":"left","baseline":"middle","color":"#111"},
"encoding":{"x":{"datum":36.9,"type":"quantitative","axis":null},"y":{"datum":4.58,"type":"quantitative","axis":null}}},
{"data":{"values":[{}]},"mark":{"type":"text","text":"N MORB and PMORB: Schilling et al. (1983)","font":"Liberation Serif","fontSize":22,"align":"left","baseline":"middle","color":"#111"},
"encoding":{"x":{"datum":8.1,"type":"quantitative","axis":null},"y":{"datum":6.9,"type":"quantitative","axis":null}}},
{"data":{"values":[{}]},"mark":{"type":"text","text":"Primitive Mantle: McDonough and Sun (1995)","font":"Liberation Serif","fontSize":22,"align":"left","baseline":"middle","color":"#111"},
"encoding":{"x":{"datum":8.1,"type":"quantitative","axis":null},"y":{"datum":7.72,"type":"quantitative","axis":null}}}
]
}
],
"config":{
"view":{"stroke":"black","strokeWidth":2},
"axis":{"domain":false,"grid":false,"tickColor":"black","tickWidth":1.8,"labelColor":"black","labelFont":"Liberation Sans","labelFontSize":17,"titleFont":"Liberation Sans","titleFontSize":17,"titleFontWeight":"bold","titleColor":"black","labelFlush":false,"labelOverlap":false}
}
}
